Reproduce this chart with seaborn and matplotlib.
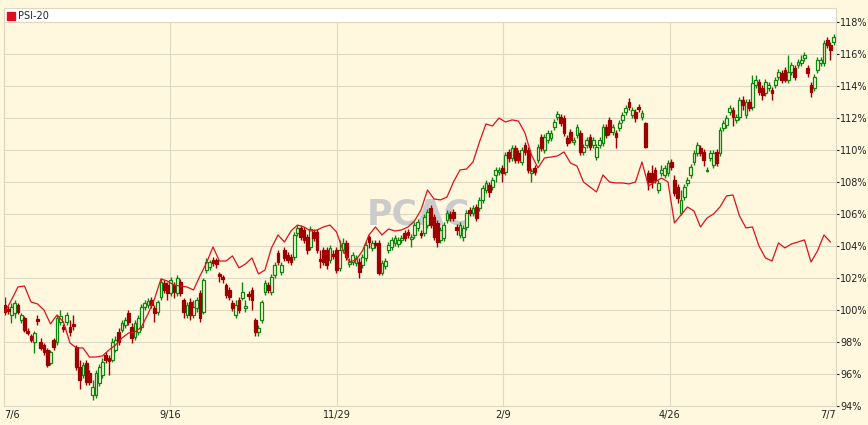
import numpy as np
import pandas as pd
import matplotlib
matplotlib.use('Agg')
import matplotlib.pyplot as plt
from matplotlib.patches import Patch
import seaborn as sns

# daily candles, values in % of the 7/6 level
opens = [
    100.31, 100.06, 99.69, 99.81, 100.31, 99.38, 99.50, 98.69, 98.38, 98.00,
    99.44, 98.00, 97.81, 97.50, 96.69, 98.13, 98.00, 99.25, 98.94, 99.25,
    98.94, 99.13, 97.69, 96.44, 95.94, 96.69, 96.06, 94.69, 94.69, 95.44,
    95.94, 97.19, 97.00, 96.88, 97.50, 98.63, 98.75, 99.06, 99.81, 98.94,
    98.31, 98.63, 98.94, 100.19, 100.31, 100.63, 100.13, 99.88, 100.81, 101.69,
    101.56, 101.06, 101.56, 101.06, 101.75, 100.63, 99.69, 100.50, 99.69, 100.13,
    101.06, 99.88, 102.50, 102.69, 103.13, 103.13, 102.25, 102.06, 101.56, 101.25,
    100.44, 99.69, 100.63, 100.75, 100.13, 101.00, 101.25, 99.38, 98.63, 99.38,
    101.13, 101.56, 101.13, 102.19, 103.56, 102.38, 103.75, 103.44, 103.31, 103.31,
    104.81, 105.13, 105.00, 104.56, 103.94, 104.88, 104.88, 103.19, 103.75, 103.75,
    103.13, 103.50, 103.75, 102.63, 103.75, 104.19, 102.88, 103.00, 102.94, 103.00,
    102.81, 103.25, 104.56, 103.88, 104.19, 104.19, 102.31, 102.75, 103.75, 103.94,
    104.19, 104.13, 104.38, 104.81, 104.88, 104.44, 104.69, 105.13, 104.81, 104.81,
    105.31, 106.38, 105.81, 105.44, 104.38, 104.50, 105.63, 106.00, 106.13, 105.19,
    104.69, 104.56, 105.19, 106.25, 106.06, 106.44, 106.38, 106.88, 107.50, 107.81,
    107.69, 108.44, 108.63, 108.88, 108.63, 109.88, 109.50, 110.13, 109.81, 109.25,
    110.31, 110.00, 108.56, 108.88, 109.38, 110.81, 110.00, 110.63, 110.75, 111.44,
    112.06, 112.06, 112.00, 110.75, 111.13, 110.50, 110.94, 111.06, 109.88, 110.31,
    110.81, 110.31, 109.56, 110.31, 110.44, 111.44, 111.88, 111.13, 111.06, 111.38,
    111.88, 112.38, 113.00, 112.19, 112.38, 112.69, 112.06, 111.69, 108.56, 108.56,
    108.75, 107.50, 108.56, 108.44, 108.56, 109.25, 108.13, 107.69, 106.06, 107.06,
    107.94, 108.44, 109.25, 109.81, 110.13, 109.88, 108.69, 109.50, 109.06, 109.88,
    109.81, 111.38, 111.56, 112.38, 112.50, 111.88, 112.06, 113.13, 112.19, 113.00,
    112.69, 114.06, 114.25, 113.88, 113.56, 113.88, 113.75, 114.06, 114.56, 114.81,
    115.00, 114.38, 114.88, 115.13, 115.31, 115.44, 115.75, 115.13, 114.06, 113.88,
    115.00, 115.44, 115.44, 116.88, 116.56, 116.75,
]
highs = [
    100.81, 100.25, 100.44, 100.63, 100.44, 99.81, 99.63, 98.88, 98.50, 98.69,
    99.69, 98.25, 97.94, 97.63, 97.50, 98.25, 99.69, 100.00, 99.13, 99.88,
    99.38, 99.69, 97.81, 96.88, 96.75, 96.88, 96.25, 95.63, 96.25, 96.63,
    97.00, 97.38, 97.19, 98.25, 98.38, 98.88, 99.38, 99.56, 100.00, 99.19,
    99.38, 99.69, 100.38, 100.63, 100.75, 100.81, 100.31, 100.63, 102.00, 101.88,
    101.75, 102.06, 101.75, 102.19, 101.94, 100.75, 100.50, 100.75, 100.63, 100.81,
    101.25, 102.00, 103.25, 103.13, 103.31, 103.25, 102.38, 102.19, 101.69, 101.44,
    100.63, 100.63, 100.81, 101.75, 100.63, 101.19, 101.44, 99.50, 99.06, 100.63,
    101.88, 101.75, 102.25, 103.00, 103.75, 103.00, 103.94, 103.63, 103.50, 104.88,
    105.31, 105.31, 105.19, 104.75, 105.25, 105.06, 105.06, 103.75, 103.94, 103.94,
    104.06, 103.75, 103.94, 104.38, 104.50, 104.38, 103.25, 103.63, 103.44, 103.25,
    103.50, 104.25, 104.69, 104.38, 104.38, 104.38, 103.13, 103.25, 104.25, 104.56,
    104.69, 104.56, 104.69, 105.00, 105.06, 104.75, 105.50, 105.69, 105.00, 106.00,
    106.31, 106.56, 106.00, 105.63, 105.19, 105.50, 106.25, 106.19, 106.31, 105.38,
    105.50, 105.31, 106.25, 106.44, 106.56, 106.63, 107.06, 107.81, 108.13, 108.00,
    108.31, 108.94, 108.94, 109.06, 109.88, 110.06, 110.31, 110.31, 110.00, 110.19,
    110.50, 110.19, 108.88, 109.06, 110.38, 111.00, 111.00, 111.25, 111.25, 111.94,
    112.44, 112.25, 112.19, 110.94, 111.31, 110.81, 111.63, 111.25, 110.38, 110.81,
    111.00, 110.81, 110.38, 110.81, 111.63, 111.63, 112.06, 111.63, 111.25, 111.88,
    112.38, 112.81, 113.25, 112.69, 112.56, 112.88, 112.50, 111.75, 108.75, 109.06,
    108.94, 108.13, 109.06, 109.06, 109.38, 109.44, 108.44, 107.88, 107.50, 107.88,
    108.31, 109.13, 110.00, 110.50, 110.31, 110.06, 108.94, 110.00, 110.00, 110.06,
    111.44, 111.88, 112.19, 112.81, 112.69, 112.25, 113.31, 113.38, 113.19, 113.19,
    114.69, 114.69, 114.44, 114.06, 114.44, 114.25, 113.94, 114.56, 115.06, 115.00,
    115.19, 115.94, 115.50, 115.31, 115.69, 115.94, 116.13, 115.31, 114.25, 114.75,
    115.81, 115.81, 116.88, 117.06, 116.75, 117.25,
]
lows = [
    99.69, 99.75, 99.19, 99.50, 99.75, 99.19, 98.63, 98.44, 98.00, 97.31,
    99.06, 97.50, 97.19, 96.44, 96.56, 97.50, 97.81, 99.06, 98.63, 99.06,
    98.38, 98.75, 96.25, 95.06, 95.75, 95.31, 95.31, 94.38, 94.50, 95.25,
    95.75, 96.69, 95.94, 96.75, 97.38, 97.81, 98.63, 98.88, 99.06, 97.94,
    98.13, 98.44, 98.75, 100.00, 100.13, 100.13, 99.25, 99.69, 100.63, 101.06,
    100.63, 100.88, 100.75, 100.88, 100.88, 99.50, 99.50, 99.38, 99.50, 99.88,
    99.25, 99.75, 102.31, 102.50, 102.75, 102.63, 101.75, 101.69, 100.75, 100.63,
    99.94, 99.50, 99.81, 100.63, 99.88, 100.63, 100.00, 98.38, 98.38, 99.19,
    100.94, 101.06, 100.94, 102.00, 102.81, 102.19, 103.06, 102.94, 102.81, 103.13,
    104.63, 104.38, 104.19, 103.50, 103.75, 104.31, 103.56, 102.63, 102.81, 102.56,
    102.94, 103.19, 102.31, 102.44, 103.56, 103.13, 102.69, 102.81, 102.75, 102.00,
    102.63, 103.06, 103.88, 103.69, 103.88, 102.19, 102.19, 102.56, 103.56, 103.75,
    104.00, 103.94, 104.19, 104.31, 104.50, 103.94, 104.50, 104.94, 104.50, 104.63,
    105.13, 105.13, 104.38, 103.94, 104.19, 104.31, 105.44, 105.56, 105.56, 104.69,
    104.50, 104.31, 105.00, 105.88, 105.88, 105.56, 106.19, 106.69, 107.31, 107.06,
    107.50, 108.00, 108.44, 108.00, 108.44, 109.25, 109.31, 109.19, 109.19, 109.06,
    109.69, 108.56, 108.00, 108.44, 109.19, 109.94, 109.81, 110.44, 110.56, 111.25,
    111.88, 111.50, 110.88, 110.25, 110.44, 110.31, 110.75, 109.69, 109.69, 110.13,
    110.00, 110.13, 109.38, 110.13, 110.25, 110.75, 110.94, 110.94, 110.13, 111.19,
    111.69, 112.19, 112.50, 112.00, 111.75, 112.38, 111.88, 110.13, 107.50, 107.63,
    107.94, 107.31, 108.38, 108.25, 108.38, 108.75, 107.13, 106.69, 105.94, 106.88,
    107.75, 108.25, 109.06, 109.63, 109.63, 109.00, 108.63, 109.31, 108.88, 109.00,
    109.63, 111.19, 111.38, 112.19, 111.50, 111.69, 111.88, 112.50, 112.00, 112.44,
    112.50, 113.88, 113.44, 113.13, 113.38, 113.69, 113.13, 113.88, 114.38, 114.19,
    114.25, 114.19, 114.69, 114.38, 115.13, 115.25, 115.56, 114.56, 113.31, 113.69,
    114.81, 115.25, 115.25, 116.38, 115.63, 116.56,
]
closes = [
    99.88, 99.94, 100.19, 100.44, 99.88, 99.69, 98.75, 98.56, 98.13, 98.56,
    99.31, 97.63, 97.38, 96.56, 97.38, 97.69, 99.50, 99.63, 98.81, 99.69,
    98.63, 99.00, 96.44, 95.63, 96.56, 95.50, 95.50, 95.19, 96.06, 96.44,
    96.75, 96.88, 96.81, 98.00, 98.13, 98.00, 99.19, 99.38, 99.25, 98.25,
    99.19, 99.50, 100.19, 100.44, 100.56, 100.31, 99.81, 100.50, 101.75, 101.25,
    101.06, 101.88, 101.13, 102.00, 101.06, 99.88, 100.31, 99.69, 100.19, 100.63,
    99.50, 101.88, 103.00, 103.00, 102.94, 102.88, 102.13, 101.94, 100.94, 100.81,
    100.13, 100.31, 100.00, 101.13, 100.25, 100.88, 100.63, 98.63, 98.88, 100.50,
    101.69, 101.25, 102.06, 102.81, 103.00, 102.81, 103.25, 103.13, 103.00, 104.69,
    105.13, 104.56, 104.38, 103.75, 105.06, 104.50, 103.75, 103.06, 103.00, 102.81,
    103.88, 103.38, 102.50, 103.75, 104.19, 103.31, 103.00, 103.44, 103.25, 102.38,
    103.31, 104.06, 104.25, 104.19, 104.06, 102.31, 102.94, 103.06, 104.06, 104.38,
    104.50, 104.38, 104.50, 104.50, 104.69, 104.56, 105.31, 105.50, 104.69, 105.81,
    106.13, 105.31, 104.56, 104.25, 105.00, 105.31, 106.06, 105.75, 105.75, 105.00,
    105.31, 105.13, 106.06, 106.06, 106.38, 105.75, 106.88, 107.63, 107.94, 107.38,
    108.13, 108.75, 108.75, 108.56, 109.69, 109.50, 110.13, 109.38, 109.38, 110.00,
    109.88, 108.75, 108.69, 108.63, 110.19, 110.13, 110.81, 111.06, 111.06, 111.75,
    112.25, 111.69, 111.06, 110.44, 110.63, 110.63, 111.44, 109.88, 110.19, 110.63,
    110.19, 110.63, 110.19, 110.63, 111.44, 110.94, 111.13, 111.44, 110.81, 111.69,
    112.19, 112.63, 112.69, 112.50, 112.00, 112.56, 112.31, 110.19, 108.00, 108.00,
    108.13, 107.94, 108.75, 108.88, 109.19, 108.94, 107.31, 107.00, 106.88, 107.69,
    108.13, 108.94, 109.81, 110.31, 109.81, 109.38, 108.75, 109.81, 109.81, 109.19,
    111.25, 111.69, 112.00, 112.63, 112.06, 112.06, 113.13, 112.81, 113.00, 112.63,
    114.19, 114.38, 113.63, 113.44, 114.25, 114.06, 113.56, 114.38, 114.88, 114.38,
    114.38, 114.88, 115.31, 114.56, 115.50, 115.63, 115.94, 114.81, 113.63, 114.56,
    115.63, 115.63, 116.69, 116.56, 116.25, 117.06,
]

# PSI-20 comparison line, one value every second trading day
psi20 = [
    99.88, 100.63, 101.44, 101.50, 100.50, 100.38, 100.00, 99.13, 99.69, 99.25,
    97.94, 97.63, 97.63, 97.06, 97.06, 97.13, 97.50, 97.81, 98.25, 98.56,
    98.63, 98.94, 99.75, 100.69, 101.94, 101.81, 101.56, 101.50, 101.44, 101.25,
    102.13, 102.94, 103.94, 103.06, 103.06, 103.38, 102.63, 102.88, 103.25, 102.25,
    102.50, 103.88, 104.69, 104.25, 104.94, 105.31, 105.19, 104.94, 105.00, 105.19,
    105.31, 104.88, 103.75, 103.00, 103.13, 103.69, 104.69, 105.19, 104.69, 105.06,
    104.94, 105.00, 105.19, 105.56, 106.25, 107.50, 106.94, 106.88, 107.06, 108.00,
    108.75, 108.81, 109.25, 110.50, 111.63, 111.50, 112.00, 111.75, 111.88, 111.81,
    111.06, 109.69, 108.88, 109.50, 109.56, 109.63, 109.88, 109.19, 109.00, 108.00,
    107.69, 107.38, 108.44, 108.00, 107.94, 107.94, 107.88, 108.00, 109.25, 107.75,
    108.00, 108.25, 108.00, 105.44, 105.94, 106.44, 106.19, 105.19, 105.75, 106.00,
    106.44, 107.13, 107.19, 105.88, 105.13, 105.19, 104.00, 103.25, 103.06, 104.19,
    103.88, 104.13, 104.25, 104.38, 103.00, 103.69, 104.69, 104.25,
]

date_labels = ['7/6', '9/16', '11/29', '2/9', '4/26', '7/7']
pct_ticks = list(range(94, 119, 2))

df = pd.DataFrame({'open': opens, 'high': highs, 'low': lows, 'close': closes})
df['day'] = np.arange(len(df))
df['up'] = df['close'] >= df['open']
line = pd.DataFrame({'day': np.arange(0, len(df), 2)[:len(psi20)], 'pct': psi20})

BG = '#FFF8DF'
GRID = '#DDD8C2'
GREEN = '#0B860B'
DARKRED = '#9E0000'
RED = '#E0101A'

sns.set_style('white')
plt.rcParams['font.family'] = ['DejaVu Sans']

fig = plt.figure(figsize=(8.68, 4.25), dpi=100, facecolor=BG)
ax = fig.add_axes([4 / 868, 19 / 425, 832 / 868, 398 / 425])
ax.set_facecolor(BG)

x0, x1 = -0.3, len(df) - 0.3
y0, y1 = 94, 118.875
ax.set_xlim(x0, x1)
ax.set_ylim(y0, y1)

ax.set_xticks(np.linspace(x0, x1, len(date_labels)))
ax.set_xticklabels(date_labels)
ax.set_yticks(pct_ticks)
ax.set_yticklabels([f'{t}%' for t in pct_ticks])
ax.yaxis.tick_right()
ax.grid(True, color=GRID, lw=0.8)
ax.set_axisbelow(True)
ax.tick_params(axis='y', length=2, width=0.8, pad=1, labelsize=7, colors='#222222')
ax.tick_params(axis='x', length=0, pad=3, labelsize=7, colors='#222222')
xl = ax.get_xticklabels()
xl[0].set_ha('left')
xl[-1].set_ha('right')
for s in ax.spines.values():
    s.set_color(GRID)
    s.set_linewidth(0.8)

# white strip holding the legend
ax.axhspan(118, y1, color='white', lw=0, zorder=1)
ax.axhline(118, color=GRID, lw=0.8, zorder=1.1)

# watermark
ax.text(0.4976, 0.48, 'PCAC', transform=ax.transAxes, ha='center', va='center',
        fontsize=25, fontweight='bold', color='#CBCBCB', zorder=1.5)

# candles: hollow green up days, filled dark red down days
for up, color, face in [(True, GREEN, BG), (False, DARKRED, DARKRED)]:
    sub = df[df['up'] == up]
    ax.vlines(sub['day'], sub['low'], sub['high'], color=color, lw=1.0, zorder=2)
    body = (sub['close'] - sub['open']).abs().clip(lower=0.06)
    ax.bar(sub['day'], body, bottom=sub[['open', 'close']].min(axis=1), width=0.85,
           facecolor=face, edgecolor=color, linewidth=0.9, zorder=3)

sns.lineplot(data=line, x='day', y='pct', ax=ax, color=RED, linewidth=0.9,
             zorder=4, legend=False)
ax.set_xlabel('')
ax.set_ylabel('')

ax.legend(handles=[Patch(facecolor=RED, edgecolor=RED)], labels=['PSI-20'],
          loc='upper left', bbox_to_anchor=(0.0, 1.0), frameon=False, fontsize=7,
          handlelength=0.8, handleheight=0.8, handletextpad=0.3,
          borderaxespad=0.1, borderpad=0.25)

fig.savefig('out.png', dpi=100, facecolor=BG)
